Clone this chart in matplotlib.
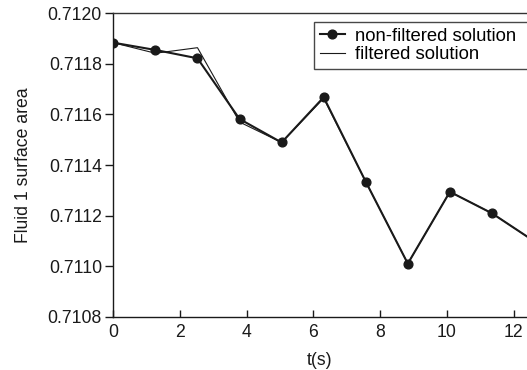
import matplotlib
matplotlib.use("Agg")
import matplotlib.pyplot as plt

# data
t_nonfilt = [0.0, 1.27, 2.53, 3.79, 5.05, 6.31, 7.57, 8.83, 10.09, 11.35, 12.62]
a_nonfilt = [0.711884, 0.711855, 0.711822, 0.711582, 0.711489, 0.711668,
             0.711334, 0.711010, 0.711294, 0.711209, 0.711098]

t_filt = [0.0, 1.27, 2.53, 3.79, 5.05, 6.31, 7.57, 8.83, 10.09, 11.35, 12.62]
a_filt = [0.711884, 0.711842, 0.711864, 0.711570, 0.711489, 0.711664,
          0.711334, 0.711010, 0.711294, 0.711209, 0.711098]

yticks = [0.7108, 0.7110, 0.7112, 0.7114, 0.7116, 0.7118, 0.7120]
xticks = [0, 2, 4, 6, 8, 10, 12]

plt.rcParams['font.family'] = ['Liberation Sans', 'DejaVu Sans']
fs = 12.7
ink = '#1a1a1a'

fig = plt.figure(figsize=(5.27, 3.7), dpi=100)
ax = fig.add_axes([113 / 527, 53.3 / 370, 414 / 527, 303.4 / 370])

ax.plot(t_nonfilt, a_nonfilt, '-o', color=ink, lw=1.5, ms=6.3,
        label='non-filtered solution')
ax.plot(t_filt, a_filt, '-', color=ink, lw=0.8, label='filtered solution')

ax.set_xlim(0, 12.4)
ax.set_ylim(0.7108, 0.7120)
ax.set_xticks(xticks)
ax.set_yticks(yticks)
ax.set_yticklabels(['%.4f' % v for v in yticks])

ax.spines['right'].set_visible(False)
for s in ['left', 'bottom', 'top']:
    ax.spines[s].set_color(ink)
    ax.spines[s].set_linewidth(1.0)
ax.spines['top'].set_color('#333333')

ax.tick_params(axis='y', direction='out', length=6, width=1, pad=2,
               labelsize=fs, colors=ink)
ax.tick_params(axis='x', direction='in', length=5, width=1, pad=5,
               labelsize=fs, colors=ink)

ax.set_xlabel('t(s)', fontsize=fs, color=ink, labelpad=8)
ax.set_ylabel('Fluid 1 surface area', fontsize=fs, color=ink, labelpad=11)

leg = ax.legend(loc='upper left',
                bbox_to_anchor=(314 / 527, 300 / 370, 230 / 527, 48 / 370),
                bbox_transform=fig.transFigure, mode='expand',
                fontsize=13.3, frameon=True, fancybox=False, borderaxespad=0,
                handlelength=1.4, handletextpad=0.5, labelspacing=0.1,
                borderpad=0.3)
leg.get_frame().set_edgecolor(ink)
leg.get_frame().set_linewidth(1.0)

fig.savefig('out.png', dpi=100)
